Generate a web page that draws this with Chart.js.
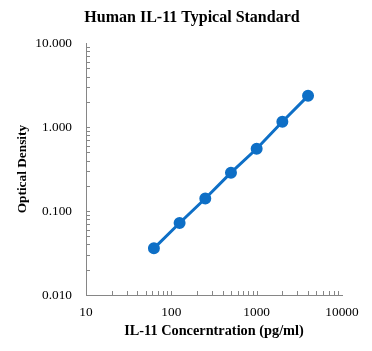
<!DOCTYPE html>
<html>
<head>
<meta charset="utf-8">
<script src="https://cdn.jsdelivr.net/npm/chart.js@4/dist/chart.umd.min.js"></script>
<style>
html,body{margin:0;padding:0;background:#fff;}
#wrap{width:372px;height:351px;position:relative;}
</style>
</head>
<body>
<div id="wrap"><canvas id="c" width="372" height="351"></canvas></div>
<script>
const concentrations = [62.5, 125, 250, 500, 1000, 2000, 4000];
const opticalDensity = [0.036, 0.072, 0.141, 0.287, 0.552, 1.16, 2.36];
const xTickValues = [10, 100, 1000, 10000];
const yTickValues = [0.01, 0.1, 1, 10];

const points = concentrations.map((x, i) => ({x: x, y: opticalDensity[i]}));

const minorTicks = {
  id: 'minorTicks',
  afterDatasetsDraw(chart) {
    const ctx = chart.ctx;
    ctx.save();
    ctx.strokeStyle = '#868686';
    ctx.lineWidth = 1;
    const xs = chart.scales.x, ys = chart.scales.y;
    const drawFor = (scale, horiz) => {
      const lo = Math.floor(Math.log10(scale.min));
      const hi = Math.ceil(Math.log10(scale.max));
      for (let d = lo; d < hi; d++) {
        for (let k = 1; k <= 9; k++) {
          const v = k * Math.pow(10, d);
          if (v < scale.min * 0.999 || v > scale.max * 1.001) continue;
          const p = Math.round(scale.getPixelForValue(v)) + 0.5;
          ctx.beginPath();
          if (horiz) {
            ctx.moveTo(p, ys.bottom);
            ctx.lineTo(p, ys.bottom - 4);
          } else {
            ctx.moveTo(xs.left, p);
            ctx.lineTo(xs.left + 4, p);
          }
          ctx.stroke();
        }
      }
    };
    drawFor(xs, true);
    drawFor(ys, false);
    ctx.restore();
  }
};

new Chart(document.getElementById('c'), {
  type: 'line',
  data: {
    datasets: [{
      data: points,
      borderColor: '#0E6FC6',
      backgroundColor: '#0E6FC6',
      borderWidth: 3,
      pointRadius: 4.5,
      pointHoverRadius: 4.5,
      tension: 0,
      fill: false
    }]
  },
  options: {
    responsive: false,
    animation: false,
    devicePixelRatio: 1,
    layout: {padding: {left: 42, right: 30, top: 0, bottom: 0}},
    plugins: {
      legend: {display: false},
      tooltip: {enabled: false},
      title: {
        display: true,
        text: 'Human IL-11 Typical Standard',
        color: '#000',
        font: {family: 'Liberation Serif', size: 16, weight: 'bold'},
        padding: {top: 8, bottom: 16}
      }
    },
    scales: {
      x: {
        type: 'logarithmic',
        min: 10,
        max: 10000,
        afterBuildTicks(scale) { scale.ticks = xTickValues.map(v => ({value: v})); },
        afterFit(scale) { scale.height = 56; },
        grid: {display: false, drawTicks: false},
        border: {display: true, color: '#868686', width: 1},
        ticks: {
          autoSkip: false,
          maxRotation: 0,
          padding: 9,
          color: '#000',
          font: {family: 'Liberation Serif', size: 13.33},
          callback: v => String(v)
        },
        title: {
          display: true,
          text: 'IL-11 Concerntration (pg/ml)',
          color: '#000',
          font: {family: 'Liberation Serif', size: 14.3, weight: 'bold'},
          padding: {top: 0, bottom: 11}
        }
      },
      y: {
        type: 'logarithmic',
        min: 0.01,
        max: 10,
        afterBuildTicks(scale) { scale.ticks = yTickValues.map(v => ({value: v})); },
        afterFit(scale) {
          scale.width = 44;
          scale._computeLabelArea = function () { return undefined; };
        },
        grid: {display: false, drawTicks: false},
        border: {display: true, color: '#868686', width: 1},
        ticks: {
          autoSkip: false,
          padding: 14,
          color: '#000',
          font: {family: 'Liberation Serif', size: 13.33},
          callback: v => Number(v).toFixed(3)
        },
        title: {
          display: true,
          text: 'Optical Density',
          color: '#000',
          font: {family: 'Liberation Serif', size: 13.33, weight: 'bold'},
          padding: {top: -27, bottom: 0}
        }
      }
    }
  },
  plugins: [minorTicks]
});
</script>
</body>
</html>
